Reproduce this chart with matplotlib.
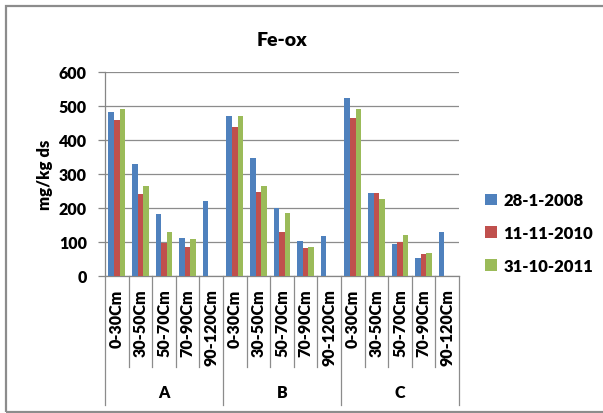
import numpy as np
import matplotlib
matplotlib.use("Agg")
import matplotlib.pyplot as plt
from matplotlib.patches import Rectangle

# ---- data ----
groups = ["A", "B", "C"]
depths = ["0-30Cm", "30-50Cm", "50-70Cm", "70-90Cm", "90-120Cm"]
series_names = ["28-1-2008", "11-11-2010", "31-10-2011"]
s2008 = [482, 330, 182, 113, 221,
         470, 346, 200, 103, 118,
         524, 243, 93, 54, 130]
s2010 = [460, 241, 98, 84, np.nan,
         438, 246, 128, 81, np.nan,
         464, 243, 101, 64, np.nan]
s2011 = [490, 266, 128, 108, np.nan,
         470, 266, 185, 86, np.nan,
         490, 226, 121, 67, np.nan]
colors = ["#4F81BD", "#C0504D", "#9BBB59"]
yticks = [0, 100, 200, 300, 400, 500, 600]

FONT = "Lato"
WT = "heavy"
plt.rcParams["font.family"] = [FONT, "DejaVu Sans"]

W, H = 603, 414
fig = plt.figure(figsize=(W / 100, H / 100), dpi=100)

# outer chart border
fig.patches.append(Rectangle((6 / W, 1 - 413 / H), (W + 5 - 6) / W, (413 - 7) / H,
                             transform=fig.transFigure, fill=False,
                             edgecolor="#8c8c8c", linewidth=1.6, zorder=0))

L, R, T, B = 105, 459, 73, 277
ax = fig.add_axes([L / W, 1 - B / H, (R - L) / W, (B - T) / H])

labels = [d for g in groups for d in depths]
n = len(labels)
x = np.arange(n)
bw = 0.235
for i, (vals, c, name) in enumerate(zip([s2008, s2010, s2011], colors, series_names)):
    ax.bar(x + (i - 1) * bw, vals, width=bw, color=c, label=name, zorder=3)

ax.set_xlim(-0.5, n - 0.5)
ax.set_ylim(0, 600)
ax.set_yticks(yticks)
ax.set_yticklabels([str(v) for v in yticks], fontsize=11.5, fontweight=WT)
ax.tick_params(axis="y", length=5, color="#868686", width=0.9, pad=8)
ax.yaxis.grid(True, color="#8c8c8c", linewidth=0.9, zorder=0)
ax.set_axisbelow(True)
for s in ["top", "right"]:
    ax.spines[s].set_visible(False)
ax.spines["left"].set_color("#868686")
ax.spines["bottom"].set_color("#868686")
ax.spines["left"].set_linewidth(0.9)
ax.spines["bottom"].set_linewidth(0.9)

ax.set_xticks(x)
ax.set_xticklabels(labels, rotation=90, fontsize=11.5, fontweight=WT, va="top")
ax.tick_params(axis="x", length=0, pad=9)

# separators for multi-level category axis
ah = B - T
tr = ax.get_xaxis_transform()
for k in range(n + 1):
    xs = k - 0.5
    if k % len(depths) == 0:
        y_end = -(406 - B) / ah
    else:
        y_end = -(368 - B) / ah
    ax.plot([xs, xs], [0, y_end], transform=tr, color="#8c8c8c",
            linewidth=0.9, clip_on=False)
for gi, g in enumerate(groups):
    cx = gi * len(depths) + (len(depths) - 1) / 2
    ax.text(cx, -(393 - B) / ah, g, transform=tr, ha="center", va="center",
            fontsize=11.5, fontweight=WT)

ax.set_ylabel("mg/kg ds", fontsize=12, fontweight=WT, labelpad=4)
fig.text((L + R) / 2 / W, 1 - 40 / H, "Fe-ox", ha="center", va="center",
         fontsize=14, fontweight=WT)

leg = fig.legend(loc="center left", bbox_to_anchor=(470 / W, 1 - 234 / H),
                 frameon=False, prop={"weight": WT, "size": 12},
                 handlelength=0.7, handleheight=0.7, handletextpad=0.4,
                 labelspacing=1.0)

fig.savefig("out.png", dpi=100)
